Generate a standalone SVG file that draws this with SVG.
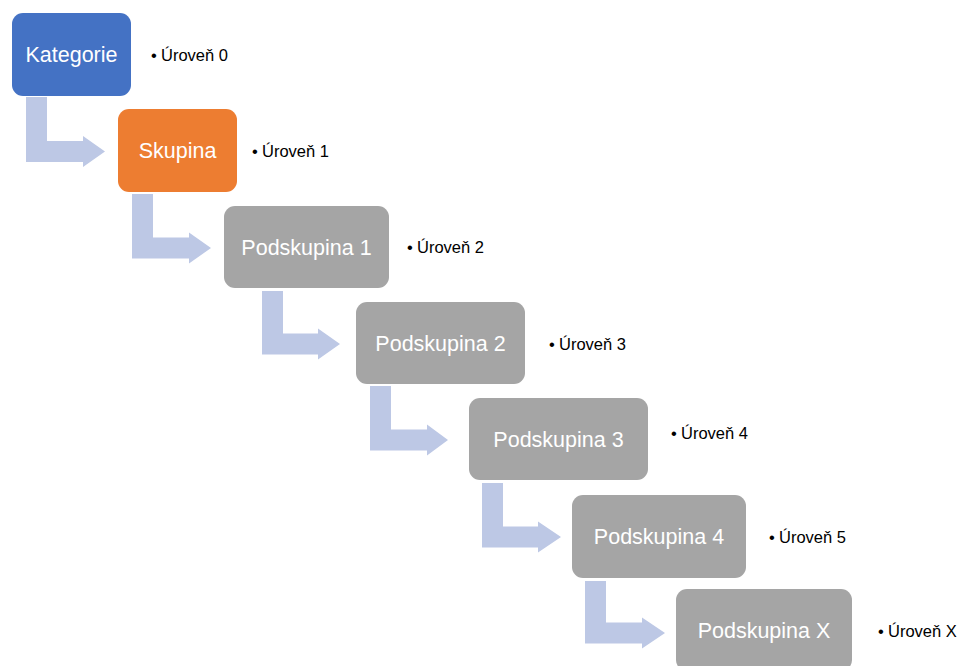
<svg xmlns="http://www.w3.org/2000/svg" width="961" height="666" viewBox="0 0 961 666">
<style>
.box text{font-family:"Liberation Sans",Arial,sans-serif;font-size:21.5px;fill:#ffffff;text-anchor:middle}
.blue{fill:#4472C4}
.orange{fill:#ED7D31}
.grey{fill:#A5A5A5}
.arrow{fill:#BDC8E5}
.lbl{font-family:"Liberation Sans",Arial,sans-serif;font-size:16.5px;fill:#000000}
</style>
<rect width="961" height="666" fill="#ffffff"/>
<g id="connectors">
<path class="arrow" d="M26 97H47V141H83V136L105 151.5L83 167V162H26Z"/>
<path class="arrow" d="M132 194H153V237.5H189V232.5L211 248L189 263.5V258.5H132Z"/>
<path class="arrow" d="M262 291H283V333.5H318V328.5L340 344L318 359.5V354.5H262Z"/>
<path class="arrow" d="M370 386H391V429.5H427V424.5L448 440L427 455.5V450.5H370Z"/>
<path class="arrow" d="M482 483H503V526.5H538V521.5L561 537L538 552.5V547.5H482Z"/>
<path class="arrow" d="M585 581H606V622.5H642V617.5L665 633L642 648.5V643.5H585Z"/>
</g>
<g id="kategorie" class="box">
<rect class="blue" x="12" y="13" width="119" height="83" rx="11"/>
<text x="71.5" y="62">Kategorie</text>
</g>
<g id="skupina" class="box">
<rect class="orange" x="118" y="109" width="119" height="83" rx="11"/>
<text x="177.5" y="158">Skupina</text>
</g>
<g id="podskupina1" class="box">
<rect class="grey" x="224" y="206" width="165" height="82" rx="11"/>
<text x="306.5" y="254.5">Podskupina 1</text>
</g>
<g id="podskupina2" class="box">
<rect class="grey" x="356" y="302" width="169" height="82" rx="11"/>
<text x="440.5" y="350.5">Podskupina 2</text>
</g>
<g id="podskupina3" class="box">
<rect class="grey" x="469" y="398" width="179" height="82" rx="11"/>
<text x="558.5" y="446.5">Podskupina 3</text>
</g>
<g id="podskupina4" class="box">
<rect class="grey" x="572" y="495" width="174" height="83" rx="11"/>
<text x="659" y="544">Podskupina 4</text>
</g>
<g id="podskupinaX" class="box">
<rect class="grey" x="676" y="589" width="176" height="82" rx="11"/>
<text x="764" y="638">Podskupina X</text>
</g>
<g id="labels">
<text class="lbl" y="61"><tspan x="151">•</tspan><tspan x="161">Úroveň 0</tspan></text>
<text class="lbl" y="157"><tspan x="252">•</tspan><tspan x="262">Úroveň 1</tspan></text>
<text class="lbl" y="253"><tspan x="407">•</tspan><tspan x="417">Úroveň 2</tspan></text>
<text class="lbl" y="350"><tspan x="549">•</tspan><tspan x="559">Úroveň 3</tspan></text>
<text class="lbl" y="439"><tspan x="671">•</tspan><tspan x="681">Úroveň 4</tspan></text>
<text class="lbl" y="543"><tspan x="769">•</tspan><tspan x="779">Úroveň 5</tspan></text>
<text class="lbl" y="637"><tspan x="878">•</tspan><tspan x="888">Úroveň X</tspan></text>
</g>
</svg>
